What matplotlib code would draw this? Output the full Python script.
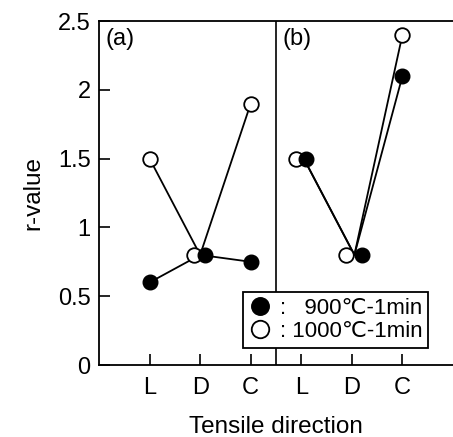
import numpy as np
import matplotlib
matplotlib.use("Agg")
import matplotlib.pyplot as plt

plt.rcParams['font.family'] = ['Liberation Sans', 'DejaVu Sans']

directions = ['L', 'D', 'C']
# panel (a) and panel (b) r-values
a_900 = [0.6, 0.8, 0.75]
a_1000 = [1.5, 0.8, 1.9]
b_900 = [1.5, 0.8, 2.1]
b_1000 = [1.5, 0.8, 2.4]
yticks = [0, 0.5, 1, 1.5, 2, 2.5]
ytick_labels = ['0', '0.5', '1', '1.5', '2', '2.5']

fig = plt.figure(figsize=(4.53, 4.37), dpi=100)
ax = fig.add_axes([99/453, 72/437, 354/453, 344/437])

xa = np.array([1, 2, 3])
xb = np.array([4, 5, 6])
# symbols are nudged sideways where they overlap, lines run to the tick
mk_a900 = np.array([0, 0.1, 0])
mk_a1000 = np.array([0, -0.12, 0])
mk_b900 = np.array([0.1, 0.2, 0])
mk_b1000 = np.array([-0.1, -0.12, 0])
ln_a = np.array([0, 0, 0])
ln_b = np.array([0.05, 0.05, 0])

ln = dict(color='black', lw=1.3)
filled = dict(ls='None', marker='o', ms=10.5, mfc='black', mec='black')
opened = dict(ls='None', marker='o', ms=10.5, mfc='white', mec='black', mew=1.3)

ax.plot(xa + ln_a, a_1000, **ln, zorder=2)
ax.plot(xa + ln_a, a_900, **ln, zorder=2)
ax.plot(xb + ln_b, b_1000, **ln, zorder=2)
ax.plot(xb + ln_b, b_900, **ln, zorder=2)

h1, = ax.plot(xa + mk_a1000, a_1000, **opened, zorder=3)
h0, = ax.plot(xa + mk_a900, a_900, **filled, zorder=4)
ax.plot(xb + mk_b1000, b_1000, **opened, zorder=3)
ax.plot(xb + mk_b900, b_900, **filled, zorder=4)

ax.axvline(3.5, color='black', lw=1.2)

ax.set_xlim(0, 7)
ax.set_ylim(0, 2.5)
ax.set_xticks(np.concatenate([xa, xb]))
ax.set_xticklabels(directions + directions, fontsize=17)
ax.set_yticks(yticks)
ax.set_yticklabels(ytick_labels, fontsize=17)
ax.tick_params(direction='in', length=8, width=1.2, pad=6)
ax.tick_params(axis='x', pad=9)
ax.spines['right'].set_visible(False)
for s in ['left', 'bottom', 'top']:
    ax.spines[s].set_linewidth(1.3)

ax.set_xlabel('Tensile direction', fontsize=17.5, labelpad=12)
ax.set_ylabel('r-value', fontsize=17.5, labelpad=10)

ax.text(0.13, 2.45, '(a)', fontsize=17, va='top', ha='left')
ax.text(3.63, 2.45, '(b)', fontsize=17, va='top', ha='left')

leg = ax.legend([h0, h1], [':   900℃-1min', ': 1000℃-1min'],
                loc='lower right', bbox_to_anchor=(0.93, 0.05), fontsize=16,
                fancybox=False, edgecolor='black', framealpha=1,
                handlelength=1.0, handletextpad=0.4, borderpad=0.25,
                labelspacing=0.12, borderaxespad=0, markerscale=1.2)
leg.get_frame().set_linewidth(1.3)

fig.savefig('out.png', dpi=100)
